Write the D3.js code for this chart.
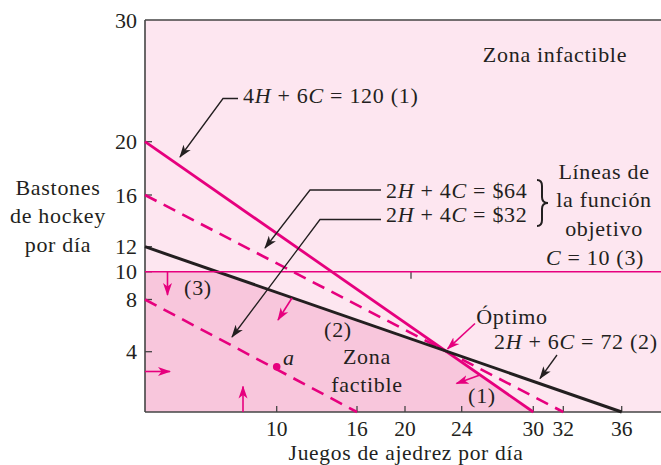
<!DOCTYPE html>
<html>
<head>
<meta charset="utf-8">
<script src="https://cdn.jsdelivr.net/npm/d3@7"></script>
<style>
  html, body { margin: 0; padding: 0; background: #fff; }
  text { font-family: "Liberation Serif", "Times New Roman", serif; fill: #231f20; }
  .lbl { letter-spacing: 0.7px; }
</style>
</head>
<body>
<script>
// Chart data
const xTicks = [10, 16, 20, 24, 30, 32, 36];
const yTicks = [4, 8, 10, 12, 16, 20, 30];

// constraints: aH + bC = rhs
const constraintCoefH = [4, 2, 0];
const constraintCoefC = [6, 6, 1];
const constraintRhs = [120, 72, 10];

// objective 2H + 4C = value
const objectiveCoefH = 2;
const objectiveCoefC = 4;
const objectiveValues = [64, 32];

const pointA = [10, 3];

const width = 661, height = 465;
const magenta = "#e6007e";
const axisColor = "#444";

// the source drawing is not to scale, so the scales are polylinear
const x = d3.scaleLinear()
    .domain([0, 10, 16, 20, 24, 30, 32, 36])
    .range([145, 276.7, 357, 405, 461.7, 533.3, 563.3, 621.7]);
const y = d3.scaleLinear()
    .domain([0, 4, 8, 10, 12, 16, 20, 30])
    .range([412, 351.7, 299.5, 271.7, 246.7, 195, 141.7, 20]);

const x0 = x(0), x1 = width, y0 = y(0), y1 = y(30);

const svg = d3.select("body").append("svg")
    .attr("width", width)
    .attr("height", height)
    .style("display", "block");

const defs = svg.append("defs");
function marker(id, color) {
  defs.append("marker")
      .attr("id", id)
      .attr("viewBox", "0 0 13 10")
      .attr("refX", 12)
      .attr("refY", 5)
      .attr("markerWidth", 13)
      .attr("markerHeight", 10)
      .attr("markerUnits", "userSpaceOnUse")
      .attr("orient", "auto")
      .append("path")
      .attr("d", "M0,0.5 L13,5 L0,9.5 L3.5,5 Z")
      .attr("fill", color);
}
marker("arrowK", "#231f20");
marker("arrowM", magenta);

// background (infeasible zone)
svg.append("rect")
    .attr("x", x0).attr("y", y1)
    .attr("width", x1 - x0).attr("height", y0 - y1)
    .attr("fill", "#fde6f0");

// line endpoints in pixels for aH + bC = r
function endpoints(a, b, r) {
  if (a === 0) return [[x0, y(r / b)], [x1, y(r / b)]];
  return [[x(0), y(r / b)], [x(r / a), y(0)]];
}
function intersect([p1, p2], [p3, p4]) {
  const d = (p1[0] - p2[0]) * (p3[1] - p4[1]) - (p1[1] - p2[1]) * (p3[0] - p4[0]);
  const t = ((p1[0] - p3[0]) * (p3[1] - p4[1]) - (p1[1] - p3[1]) * (p3[0] - p4[0])) / d;
  return [p1[0] + t * (p2[0] - p1[0]), p1[1] + t * (p2[1] - p1[1])];
}

const cLines = constraintRhs.map((r, i) => endpoints(constraintCoefH[i], constraintCoefC[i], r));
const oLines = objectiveValues.map(v => endpoints(objectiveCoefH, objectiveCoefC, v));

const corner2 = intersect(cLines[2], cLines[1]);
const optimum = intersect(cLines[1], cLines[0]);

// feasible zone
svg.append("path")
    .attr("d", d3.line()([[x(0), y(0)], cLines[2][0], corner2, optimum, cLines[0][1]]) + "Z")
    .attr("fill", "#f8c6dc");

// axes frame
svg.append("g")
    .attr("stroke", axisColor)
    .attr("stroke-width", 1.6)
    .selectAll("line")
    .data([[[x0, y1], [x1, y1]], [[x0, y1], [x0, y0]], [[x0, y0], [x1, y0]]])
    .join("line")
    .attr("x1", d => d[0][0]).attr("y1", d => d[0][1])
    .attr("x2", d => d[1][0]).attr("y2", d => d[1][1]);

// inward ticks
svg.append("g")
    .attr("stroke", axisColor).attr("stroke-width", 1.3)
    .selectAll("line")
    .data(yTicks.filter(d => d !== 30))
    .join("line")
    .attr("x1", x0).attr("x2", x0 + 7)
    .attr("y1", d => y(d)).attr("y2", d => y(d));
svg.append("g")
    .attr("stroke", axisColor).attr("stroke-width", 1.3)
    .selectAll("line")
    .data(xTicks)
    .join("line")
    .attr("x1", d => x(d)).attr("x2", d => x(d))
    .attr("y1", y0).attr("y2", y0 - 6);
// small mark on C = 10
svg.append("line")
    .attr("stroke", axisColor).attr("stroke-width", 1.3)
    .attr("x1", x(20) + 6).attr("x2", x(20) + 6)
    .attr("y1", y(10)).attr("y2", y(10) + 7);

// tick labels
svg.append("g")
    .selectAll("text")
    .data(yTicks)
    .join("text")
    .attr("x", 137)
    .attr("y", d => y(d))
    .attr("dy", "0.35em")
    .attr("text-anchor", "end")
    .style("font-size", "22px")
    .text(d => d);
svg.append("g")
    .selectAll("text")
    .data(xTicks)
    .join("text")
    .attr("x", d => x(d))
    .attr("y", 435.5)
    .attr("text-anchor", "middle")
    .style("font-size", "21.5px")
    .text(d => d);

// axis titles
svg.append("text")
    .attr("class", "lbl")
    .attr("x", 406).attr("y", 460)
    .attr("text-anchor", "middle")
    .style("font-size", "21.5px")
    .text("Juegos de ajedrez por día");
svg.append("g")
    .selectAll("text")
    .data(["Bastones", "de hockey", "por día"])
    .join("text")
    .attr("class", "lbl")
    .attr("x", 58)
    .attr("y", (d, i) => 195 + i * 28.3)
    .attr("text-anchor", "middle")
    .style("font-size", "22px")
    .text(d => d);

// objective lines (dashed)
svg.append("g")
    .selectAll("line")
    .data(oLines)
    .join("line")
    .attr("x1", d => d[0][0]).attr("y1", d => d[0][1])
    .attr("x2", d => d[1][0]).attr("y2", d => d[1][1])
    .attr("stroke", magenta)
    .attr("stroke-width", 2.6)
    .attr("stroke-dasharray", "13,8");

// constraint lines
const cStroke = [magenta, "#231f20", magenta];
const cWidth = [2.8, 3, 1.5];
svg.append("g")
    .selectAll("line")
    .data(cLines)
    .join("line")
    .attr("x1", d => d[0][0]).attr("y1", d => d[0][1])
    .attr("x2", d => d[1][0]).attr("y2", d => d[1][1])
    .attr("stroke", (d, i) => cStroke[i])
    .attr("stroke-width", (d, i) => cWidth[i]);

// point a
svg.append("circle")
    .attr("cx", x(pointA[0])).attr("cy", y(pointA[1]))
    .attr("r", 3.8)
    .attr("fill", magenta);

// arrows
function arrow(pts, color, w) {
  svg.append("path")
      .attr("d", d3.line()(pts))
      .attr("fill", "none")
      .attr("stroke", color)
      .attr("stroke-width", w)
      .attr("marker-end", color === magenta ? "url(#arrowM)" : "url(#arrowK)");
}
// leaders
arrow([[238, 98.5], [223, 98.5], [180, 157]], "#231f20", 1.3);
arrow([[381, 190], [310, 190], [265, 248]], "#231f20", 1.3);
arrow([[381, 219.5], [320, 219.5], [232, 337]], "#231f20", 1.3);
arrow([[557, 355], [540, 378.5]], "#231f20", 1.3);
arrow([[475, 323.5], [optimum[0] + 2, optimum[1] - 2]], magenta, 1.6);
// direction of constraints
arrow([[292, 298], [278, 320]], magenta, 1.6);
arrow([[480, 375], [456.5, 383.5]], magenta, 1.6);
arrow([[167.5, y(10)], [167.5, 295]], magenta, 1.6);
arrow([[x0, 371.5], [170, 371.5]], magenta, 1.6);
arrow([[243, y0], [243, 386.5]], magenta, 1.6);

// brace
svg.append("path")
    .attr("d", "M537,180 Q542,180 542,186 L542,197 Q542,203 548,203 Q542,203 542,209 L542,220 Q542,226 537,226")
    .attr("fill", "none")
    .attr("stroke", "#231f20")
    .attr("stroke-width", 2);

// labels with italic variables
function eq(xp, yp, parts, anchor) {
  const t = svg.append("text")
      .attr("class", "lbl")
      .attr("x", xp).attr("y", yp)
      .attr("text-anchor", anchor || "start")
      .style("font-size", "22px");
  parts.forEach(p => {
    t.append("tspan")
        .style("font-style", p[1] ? "italic" : "normal")
        .text(p[0]);
  });
}
eq(243, 103, [["4", 0], ["H", 1], [" + 6", 0], ["C", 1], [" = 120 (1)", 0]]);
eq(386, 198, [["2", 0], ["H", 1], [" + 4", 0], ["C", 1], [" = $64", 0]]);
eq(386, 221.5, [["2", 0], ["H", 1], [" + 4", 0], ["C", 1], [" = $32", 0]]);
eq(494, 348.5, [["2", 0], ["H", 1], [" + 6", 0], ["C", 1], [" = 72 (2)", 0]]);
eq(595, 265, [["C", 1], [" = 10 (3)", 0]], "middle");

const plain = [
  ["Zona infactible", 555, 62],
  ["Líneas de", 604, 179],
  ["la función", 604, 207],
  ["objetivo", 604, 236],
  ["Óptimo", 512, 323.5],
  ["(1)", 482, 403],
  ["(2)", 338, 337],
  ["(3)", 198, 295],
  ["Zona", 367, 363.5],
  ["factible", 367, 392]
];
svg.append("g")
    .selectAll("text")
    .data(plain)
    .join("text")
    .attr("class", "lbl")
    .attr("x", d => d[1]).attr("y", d => d[2])
    .attr("text-anchor", "middle")
    .style("font-size", "22px")
    .text(d => d[0]);

svg.append("text")
    .attr("x", 283).attr("y", 365)
    .style("font-size", "22px")
    .style("font-style", "italic")
    .text("a");
</script>
</body>
</html>
